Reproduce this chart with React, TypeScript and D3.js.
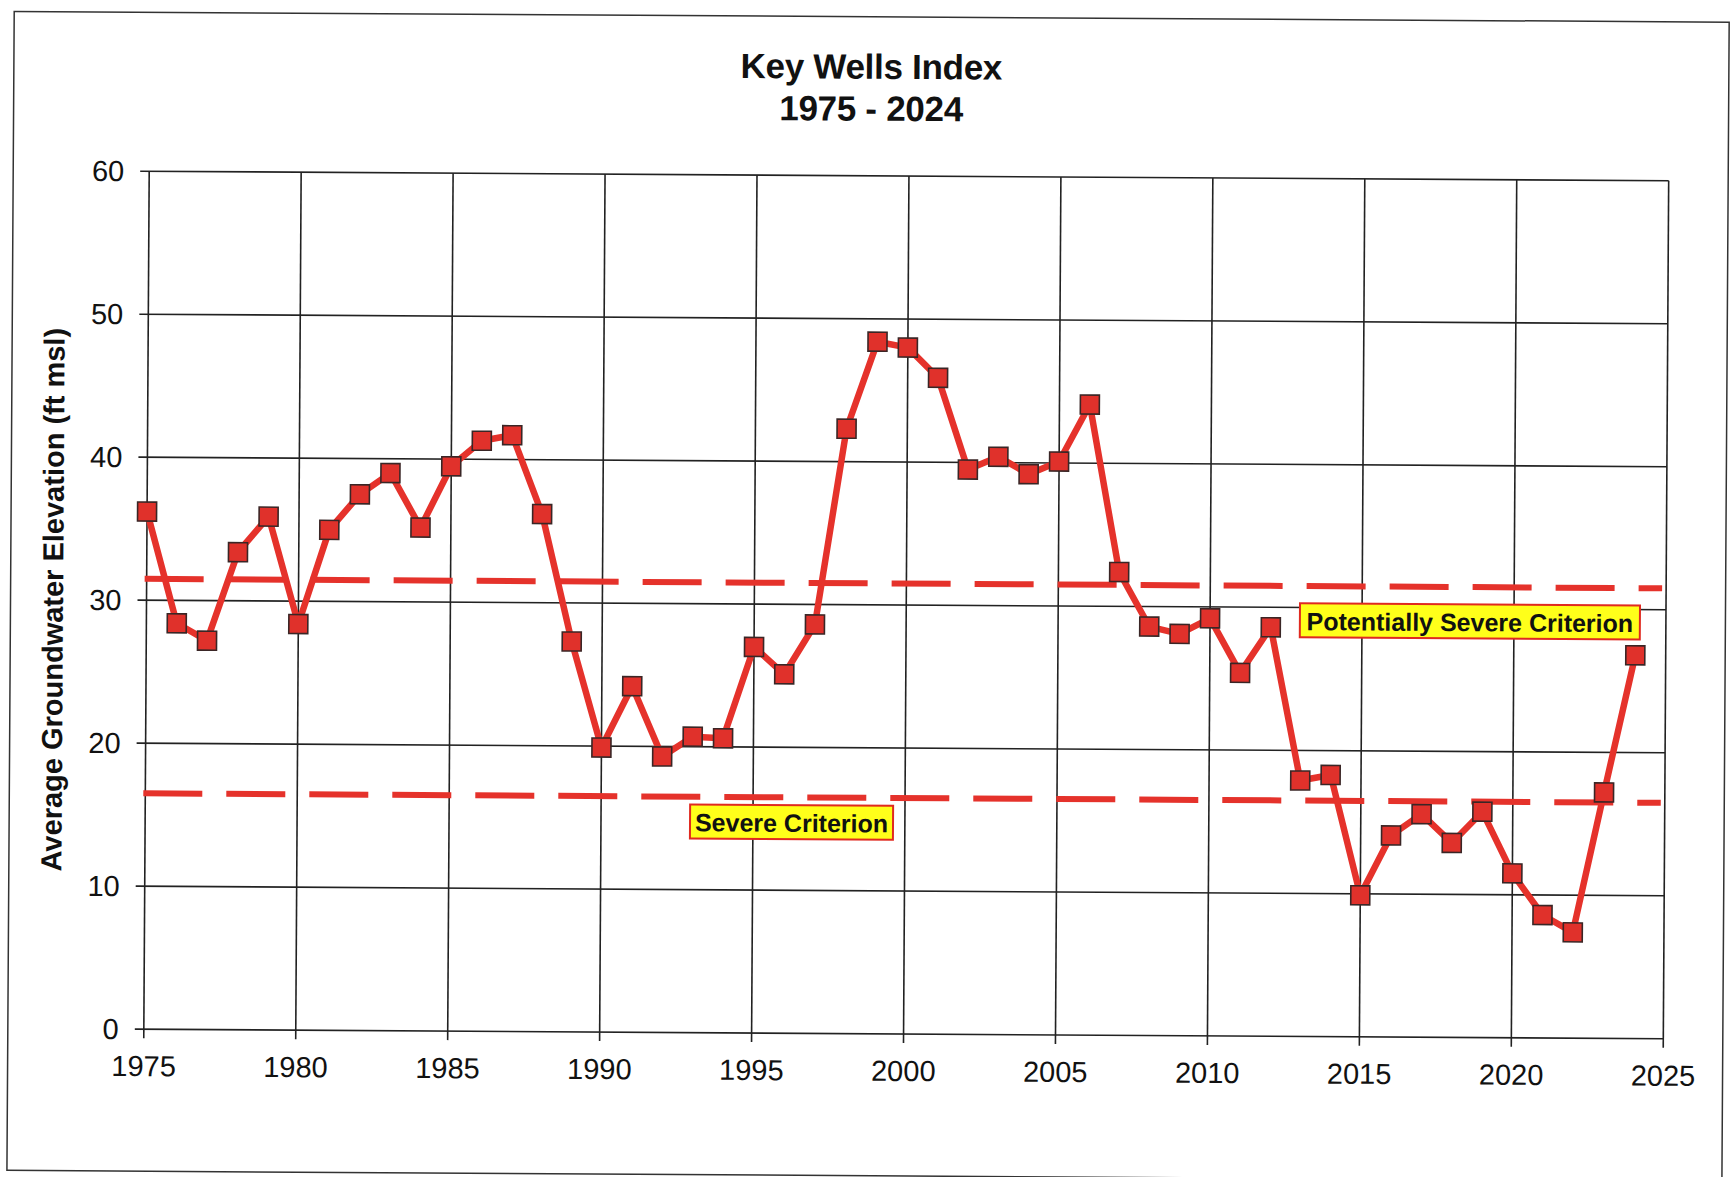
import * as d3 from "d3";
import React from "react";

// Key Wells Index, annual average groundwater elevation (ft msl)
const years = [
  1975, 1976, 1977, 1978, 1979, 1980, 1981, 1982, 1983, 1984,
  1985, 1986, 1987, 1988, 1989, 1990, 1991, 1992, 1993, 1994,
  1995, 1996, 1997, 1998, 1999, 2000, 2001, 2002, 2003, 2004,
  2005, 2006, 2007, 2008, 2009, 2010, 2011, 2012, 2013, 2014,
  2015, 2016, 2017, 2018, 2019, 2020, 2021, 2022, 2023, 2024,
];
const elevation = [
  36.2, 28.4, 27.2, 33.4, 35.9, 28.4, 35.0, 37.5, 39.0, 35.2,
  39.5, 41.3, 41.7, 36.2, 27.3, 19.9, 24.2, 19.3, 20.7, 20.6,
  27.0, 25.1, 28.6, 42.3, 48.4, 48.0, 45.9, 39.5, 40.4, 39.2,
  40.1, 44.1, 32.4, 28.6, 28.1, 29.2, 25.4, 28.6, 17.9, 18.3,
  9.9, 14.1, 15.6, 13.6, 15.8, 11.5, 8.6, 7.4, 17.2, 26.8,
];

const criteria = [
  { name: "Potentially Severe Criterion", value: 31.5, labelYear: 2018.55, labelValue: 29.1, boxW: 340 },
  { name: "Severe Criterion", value: 16.5, labelYear: 1996.27, labelValue: 14.77, boxW: 203 },
];

const xTicks = [1975, 1980, 1985, 1990, 1995, 2000, 2005, 2010, 2015, 2020, 2025];
const yTicks = [0, 10, 20, 30, 40, 50, 60];

const W = 1733;
const H = 1177;
const margin = { left: 146.5, right: 67, top: 176, bottom: 143 };
const font = "'Liberation Sans', Arial, sans-serif";
const red = "#e5322b";

export default function App() {
  const x = d3.scaleLinear().domain([1975, 2025]).range([margin.left, W - margin.right]);
  const y = d3.scaleLinear().domain([0, 60]).range([H - margin.bottom, margin.top]);

  const line = d3
    .line<number>()
    .x((_, i) => x(years[i]))
    .y((d) => y(d));

  const [x0, x1] = x.range();
  const [y0, y1] = y.range();
  const ms = 19; // marker size

  return (
    <svg
      width={W}
      height={H}
      style={{ position: "absolute", left: 0, top: 0, background: "#fff" }}
      fontFamily={font}
    >
      <g transform="rotate(0.36 906 605)">
        {/* outer frame */}
        <rect x={10.5} y={17} width={1715} height={1159} fill="none" stroke="#333" strokeWidth={1.5} />

        {/* title */}
        <text x={868} y={79} textAnchor="middle" fontSize={35} fontWeight="bold" fill="#111" letterSpacing={-0.3}>
          Key Wells Index
        </text>
        <text x={868} y={121} textAnchor="middle" fontSize={35} fontWeight="bold" fill="#111" letterSpacing={-0.3}>
          1975 - 2024
        </text>

        {/* grid */}
        {yTicks.map((t) => (
          <g key={"y" + t}>
            <line x1={x0 - 9} x2={x1} y1={y(t)} y2={y(t)} stroke="#222" strokeWidth={1.6} />
            <text x={x0 - 25} y={y(t)} dy="0.35em" textAnchor="end" fontSize={29} fill="#111">
              {t}
            </text>
          </g>
        ))}
        {xTicks.map((t) => (
          <g key={"x" + t}>
            <line x1={x(t)} x2={x(t)} y1={y1} y2={y0 + 9} stroke="#222" strokeWidth={1.6} />
            <text x={x(t)} y={y0 + 47} textAnchor="middle" fontSize={29} fill="#111">
              {t}
            </text>
          </g>
        ))}

        {/* y axis title */}
        <text
          transform={`translate(63 ${(y0 + y1) / 2}) rotate(-90)`}
          textAnchor="middle"
          fontSize={29}
          fontWeight="bold"
          fill="#111"
        >
          Average Groundwater Elevation (ft msl)
        </text>

        {/* criteria lines */}
        {criteria.map((c) => (
          <line
            key={c.name}
            x1={x0 - 2}
            x2={x1 - 4}
            y1={y(c.value)}
            y2={y(c.value)}
            stroke={red}
            strokeWidth={6}
            strokeDasharray="59 24"
          />
        ))}

        {/* series */}
        <path d={line(elevation) ?? ""} fill="none" stroke={red} strokeWidth={6.5} strokeLinejoin="round" />
        {elevation.map((v, i) => (
          <rect
            key={years[i]}
            x={x(years[i]) - ms / 2}
            y={y(v) - ms / 2}
            width={ms}
            height={ms}
            fill="#e0312b"
            stroke="#3a2626"
            strokeWidth={1.6}
          />
        ))}

        {/* criteria labels */}
        {criteria.map((c) => (
          <g key={"l" + c.name} transform={`translate(${x(c.labelYear)} ${y(c.labelValue)})`}>
            <rect x={-c.boxW / 2} y={-17} width={c.boxW} height={34} fill="#ffff1a" stroke="#e02a20" strokeWidth={2} />
            <text y={1} dy="0.35em" textAnchor="middle" fontSize={25} fontWeight="bold" fill="#111">
              {c.name}
            </text>
          </g>
        ))}
      </g>
    </svg>
  );
}
